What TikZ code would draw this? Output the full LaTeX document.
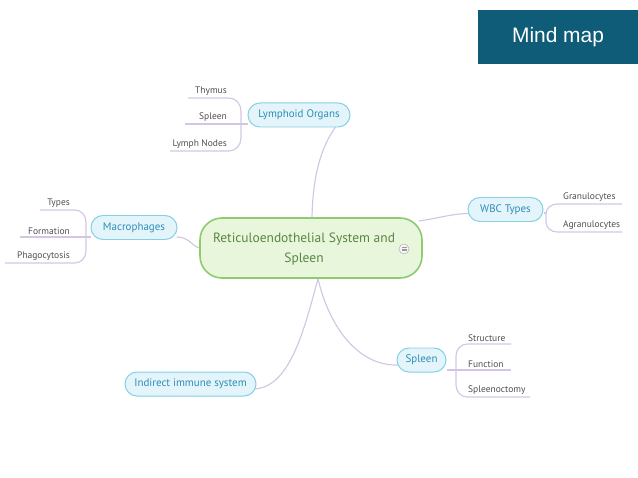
\documentclass[tikz,border=0pt]{standalone}
\usepackage{fontspec}
\setmainfont{PT Sans}
\setsansfont{Liberation Sans}
\usetikzlibrary{calc,backgrounds}
\definecolor{hdr}{HTML}{0F5C78}
\definecolor{cfill}{HTML}{E8F6DC}
\definecolor{cdraw}{HTML}{8DCB6E}
\definecolor{ctext}{HTML}{5A8644}
\definecolor{bfill}{HTML}{E3F5FB}
\definecolor{bdraw}{HTML}{86D0E3}
\definecolor{btext}{HTML}{2F8DB5}
\definecolor{conn}{HTML}{D3C6E4}
\definecolor{leaf}{HTML}{4F4F4F}
\tikzset{
  central/.style={draw=cdraw, fill=cfill, line width=1.6pt, rounded corners=22bp, minimum width=222bp, minimum height=60bp, inner sep=0pt},
  ctxt/.style={text=ctext, align=center, font=\fontsize{13.5}{20}\selectfont, inner sep=0pt},
  topic/.style={draw=bdraw, fill=bfill, line width=1pt, rounded corners=12bp, minimum height=24bp, text=btext, font=\fontsize{11}{13}\selectfont, inner sep=0pt},
  leafL/.style={anchor=south east, text=leaf, font=\fontsize{9.5}{11}\selectfont, inner sep=1bp},
  leafR/.style={anchor=south west, text=leaf, font=\fontsize{9.5}{11}\selectfont, inner sep=1bp},
  cline/.style={draw=conn, line width=1.15pt},
}
\begin{document}
\begin{tikzpicture}[x=1bp,y=-1bp]
\useasboundingbox (0,0) rectangle (638,478);
% header
\node[fill=hdr, minimum width=160bp, minimum height=54bp, inner sep=0pt, text=white, font=\sffamily\fontsize{21}{24}\selectfont] (hdr) at (558,37) {Mind map};

% nodes
\node[central] (c) at (311,248) {};
\node[ctxt] (ct) at (304,249) {Reticuloendothelial System and\\Spleen};
\node[topic, minimum width=102bp] (lym) at (299,115) {Lymphoid Organs};
\node[topic, minimum width=86bp] (mac) at (134,227.5) {Macrophages};
\node[topic, minimum width=75bp] (wbc) at (505.5,209.5) {WBC Types};
\node[topic, minimum width=49bp] (spl) at (421.5,360) {Spleen};
\node[topic, minimum width=131bp] (ind) at (190.5,384) {Indirect immune system};

\path (c.north) ++(1,0) coordinate (a1);
\path (lym.south) ++(37,-1) coordinate (a2);
\path (c.south) ++(7,0) coordinate (a3);
\path (ind.east) ++(-3,5) coordinate (a4);
\path (spl.west) ++(1,5) coordinate (a5);
\path (c.east) ++(-4,-27) coordinate (a6);
\path (wbc.west) ++(1,4) coordinate (a7);
\path (mac.east) ++(-1,9.5) coordinate (a8);
\path (c.west) ++(1,0) coordinate (a9);

\begin{scope}[on background layer]
\draw[cline] (a1) .. controls (313,165) and (326,140) .. (a2);
\draw[cline] (a3) .. controls (304,330) and (290,388) .. (a4);
\draw[cline] (a3) .. controls (330,330) and (360,366) .. (a5);
\draw[cline] (a6) .. controls (440,218) and (450,214) .. (a7);
\draw[cline] (a8) .. controls (190,237) and (192,247) .. (a9);
\end{scope}

% central icon
\node[circle, draw=gray!60, fill=gray!8, line width=0.5pt, minimum size=10bp, inner sep=0pt] (icon) at (404,249) {};
\draw[gray!80, line width=0.5pt] ($(icon.center)+(-2.5,-1.6)$) -- ++(5,0) ($(icon.center)+(-2.5,0)$) -- ++(5,0) ($(icon.center)+(-2.5,1.6)$) -- ++(5,0);

% Lymphoid branch
\node[leafL] (thy) at (228,97) {Thymus};
\node[leafL] (lspl) at (228,123) {Spleen};
\node[leafL] (lnod) at (228,150) {Lymph Nodes};
\begin{scope}[on background layer]
\draw[cline] (188,98) -- (229,98) to[out=0,in=90] (241,111) -- (241,138) to[out=-90,in=0] (229,151) -- (170,151);
\draw[cline] (185,124) -- (lym.west |- 0,124);
\end{scope}

% Macrophages branch
\node[leafL] (typ) at (71,209) {Types};
\node[leafL] (form) at (71,236) {Formation};
\node[leafL] (phag) at (71,262) {Phagocytosis};
\begin{scope}[on background layer]
\draw[cline] (40,210) -- (75,210) to[out=0,in=90] (86,222) -- (86,251) to[out=-90,in=0] (75,263) -- (5,263);
\draw[cline] (20,237) -- (mac.west |- 0,237);
\end{scope}

% WBC branch
\node[leafR] (gran) at (562,203) {Granulocytes};
\node[leafR] (agr) at (562,231) {Agranulocytes};
\begin{scope}[on background layer]
\draw[cline] (622,204) -- (557,204) to[out=180,in=90] (546,214) -- (546,222) to[out=-90,in=180] (557,232) -- (622,232);
\draw[cline] (wbc.east |- 0,213) -- (546,213);
\end{scope}

% Spleen branch
\node[leafR] (str) at (467,343) {Structure};
\node[leafR] (fun) at (467,369) {Function};
\node[leafR] (spo) at (467,396) {Spleenoctomy};
\begin{scope}[on background layer]
\draw[cline] (511,344) -- (467,344) to[out=180,in=90] (456,356) -- (456,385) to[out=-90,in=180] (467,397) -- (530,397);
\draw[cline] (spl.east |- 0,370) -- (511,370);
\end{scope}
\end{tikzpicture}
\end{document}
